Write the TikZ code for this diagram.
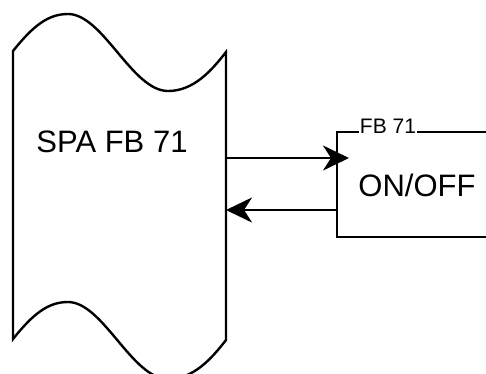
\documentclass[tikz,border=0pt]{standalone}
\usepackage{fontspec}
\setmainfont{Liberation Sans}
\usetikzlibrary{arrows.meta}
\begin{document}
\begin{tikzpicture}[x=1pt,y=-1pt,
  outline/.style={line width=2.4pt},
  arr/.style={line width=2.6pt,-{Stealth[length=26pt,width=25pt,inset=8pt]}},
  bigtext/.style={font=\fontsize{31}{31}\selectfont,inner sep=0pt},
  smalltext/.style={font=\fontsize{21}{21}\selectfont,inner sep=1pt,fill=white}]
\useasboundingbox (0,0) rectangle (486,373);
\clip (0,0) rectangle (486,373);
% SPA shape
\draw[outline] (13,51) .. controls (33,26) and (48,14) .. (68,14)
  .. controls (103,14) and (132,91) .. (168,91)
  .. controls (194,91) and (212,70) .. (226,52)
  -- (226,340)
  .. controls (212,358) and (194,379) .. (168,379)
  .. controls (132,379) and (103,302) .. (68,302)
  .. controls (48,302) and (33,314) .. (13,339) -- cycle;
\node[bigtext] (spa) at (112,142) {SPA FB 71};
\coordinate (spaOut) at (226,158);
\coordinate (spaIn) at (226,210);
% FB box
\node[draw,outline,minimum width=200pt,minimum height=105pt,anchor=north west,inner sep=0pt] (fb) at (336,131) {};
\node[bigtext] (onoff) at (417,185) {ON/OFF};
\node[smalltext] (fblabel) at (388,126) {FB 71};
\coordinate (fbIn) at (349,158);
\coordinate (fbOut) at (336,210);
\draw[arr] (spaOut) -- (fbIn);
\draw[arr] (fbOut) -- (spaIn);
\end{tikzpicture}
\end{document}
